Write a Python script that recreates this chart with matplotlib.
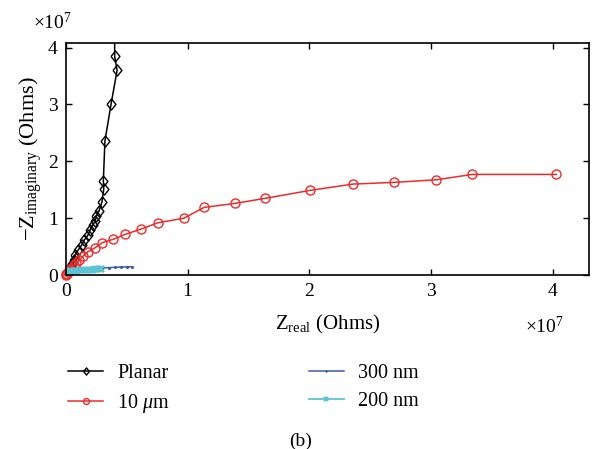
import matplotlib
matplotlib.use("Agg")
import matplotlib.pyplot as plt

plt.rcParams['font.family'] = ['Liberation Serif', 'DejaVu Serif']
plt.rcParams['mathtext.fontset'] = 'custom'
plt.rcParams['mathtext.rm'] = 'Liberation Serif'
plt.rcParams['mathtext.it'] = 'Liberation Serif:italic'

# impedance values, in units of 1e7 Ohms
planar_re = [0, 0.005, 0.012, 0.02, 0.03, 0.04, 0.05, 0.062, 0.074, 0.10, 0.13, 0.15,
             0.18, 0.20, 0.22, 0.24, 0.25, 0.27, 0.296, 0.31, 0.307, 0.32, 0.37, 0.42,
             0.40, 0.40]
planar_im = [0, 0.02, 0.05, 0.08, 0.12, 0.16, 0.20, 0.27, 0.35, 0.44, 0.53, 0.615,
             0.70, 0.80, 0.88, 0.95, 1.04, 1.12, 1.29, 1.51, 1.66, 2.36, 3.00, 3.60,
             3.85, 4.60]

um10_re = [0, 0.003, 0.008, 0.015, 0.025, 0.035, 0.05, 0.065, 0.085, 0.11, 0.14, 0.18,
           0.24, 0.30, 0.39, 0.486, 0.62, 0.757, 0.97, 1.136, 1.39, 1.64, 2.01, 2.36,
           2.70, 3.045, 3.34, 4.03]
um10_im = [0, 0.01, 0.025, 0.045, 0.07, 0.10, 0.13, 0.17, 0.21, 0.26, 0.33, 0.41,
           0.48, 0.57, 0.63, 0.715, 0.81, 0.92, 1.00, 1.19, 1.26, 1.35, 1.49, 1.60,
           1.63, 1.675, 1.77, 1.77]

nm300_re = [0, 0.01, 0.03, 0.06, 0.10, 0.15, 0.20, 0.25, 0.30, 0.35, 0.40, 0.45, 0.50, 0.54]
nm300_im = [0, 0.04, 0.07, 0.09, 0.10, 0.11, 0.115, 0.12, 0.125, 0.13, 0.135, 0.14, 0.143, 0.146]

nm200_re = [0, 0.004, 0.008, 0.012, 0.018, 0.025, 0.033, 0.042, 0.052, 0.064, 0.077,
            0.09, 0.105, 0.12, 0.135, 0.15, 0.165, 0.18, 0.195, 0.21, 0.225, 0.24,
            0.255, 0.27, 0.285, 0.29]
nm200_im = [0, 0.015, 0.028, 0.038, 0.048, 0.056, 0.062, 0.067, 0.071, 0.074, 0.077,
            0.079, 0.081, 0.083, 0.085, 0.087, 0.089, 0.09, 0.092, 0.094, 0.095, 0.097,
            0.099, 0.10, 0.102, 0.104]

ticks = [0, 1, 2, 3, 4]

diamond = [(-0.4, 0), (0, 0.5), (0.4, 0), (0, -0.5), (-0.4, 0)]

fig = plt.figure(figsize=(5.92, 4.49), dpi=100)
ax = fig.add_axes([0.1115, 0.3875, 0.8835, 0.5165])

ax.plot(planar_re, planar_im, color='black', marker=diamond, mfc='none', ms=8,
        mew=1.0, lw=1.1, label='Planar')
ax.plot(um10_re, um10_im, color='#ee2a2a', marker='o', mfc='none', ms=6.5,
        mew=1.0, lw=1.1, label=r'10 $\mu$m', clip_on=False)
ax.plot(nm300_re, nm300_im, color='#3d5aa8', marker='.', ms=2.5, lw=1.1,
        label='300 nm')
ax.plot(nm200_re, nm200_im, color='#5cc3d2', marker='x', ms=5, mew=1.6,
        lw=1.3, label='200 nm')

ax.set_xlim(0, 4.30)
ax.set_ylim(0, 4.08)
ax.set_xticks(ticks)
ax.set_yticks(ticks)
ax.set_xticklabels([str(t) for t in ticks])
ax.set_yticklabels([str(t) for t in ticks])
ax.tick_params(direction='in', length=4, width=1.0, top=True, right=True,
               labelsize=14, pad=6)
for s in ax.spines.values():
    s.set_linewidth(1.2)

ax.set_xlabel(r'$\mathrm{Z}_{\mathrm{real}}$ (Ohms)', fontsize=15, labelpad=9)
ax.set_ylabel(r'$-\mathrm{Z}_{\mathrm{imaginary}}$ (Ohms)', fontsize=16, labelpad=3)

fig.text(53 / 592, 1 - 22 / 449, r'$\times 10^{7}$', fontsize=14,
         ha='center', va='center')
fig.text(545 / 592, 1 - 326 / 449, r'$\times 10^{7}$', fontsize=14,
         ha='center', va='center')

fig.legend(loc='upper left', bbox_to_anchor=(68 / 592, 1 - 364 / 449), ncol=2,
           frameon=False, fontsize=14.5, handlelength=1.75, handletextpad=0.7,
           columnspacing=6.9, labelspacing=0.45, borderpad=0, borderaxespad=0,
           markerscale=0.65)

fig.text(0.507, 1 - 441 / 449, '(b)', fontsize=14, ha='center', va='center')

fig.savefig('out.png', dpi=100)
